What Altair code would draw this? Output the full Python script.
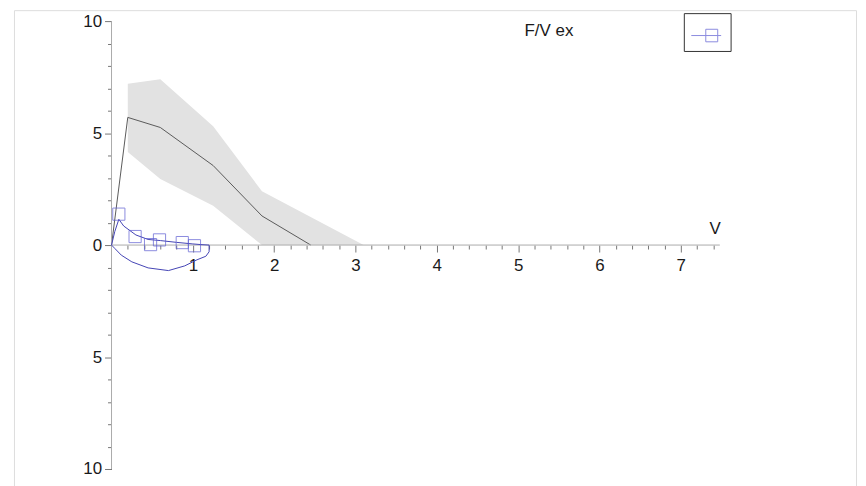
import altair as alt
import pandas as pd

# ---- data ----
mean_x = [0.0, 0.2, 0.6, 1.25, 1.85, 2.45]
mean_y = [0.0, 5.7, 5.25, 3.55, 1.3, 0.0]

band_x = [0.2, 0.6, 1.25, 1.85, 3.1]
band_lo = [4.15, 2.95, 1.75, 0.0, 0.0]
band_hi = [7.2, 7.4, 5.3, 2.4, 0.0]

sq_x = [0.09, 0.29, 0.48, 0.59, 0.87, 1.02]
sq_y = [1.38, 0.38, 0.02, 0.23, 0.11, -0.03]

loop_x = [0.0, 0.04, 0.09, 0.15, 0.3, 0.45, 0.6, 0.8, 1.0, 1.1, 1.2, 1.2, 1.16, 1.05,
          0.9, 0.7, 0.45, 0.25, 0.12, 0.04, 0.0]
loop_y = [0.0, 0.6, 1.15, 0.85, 0.45, 0.25, 0.2, 0.12, 0.05, 0.02, 0.0, -0.3, -0.5, -0.66,
          -0.93, -1.14, -1.02, -0.75, -0.45, -0.15, 0.0]

series_name = ["F/V ex"]
x_tick_values = [round(0.2 * i, 1) for i in range(1, 38)]
y_tick_values = list(range(-10, 11))
x_axis_end = 7.48

FONT = "Liberation Sans"

xscale = alt.Scale(domain=[-1.1995, 9.155], nice=False, zero=False)
yscale = alt.Scale(domain=[-11.511, 10.489], nice=False, zero=False)

is_int_x = "abs(datum.value - round(datum.value)) < 0.01"
xaxis = alt.Axis(
    values=x_tick_values, orient="bottom", offset=-259, domain=False, grid=False,
    tickColor="#777777", tickWidth=1,
    tickSize={"condition": {"test": is_int_x, "value": 7}, "value": 4},
    labelExpr=f"{is_int_x} ? format(round(datum.value), 'd') : ''",
    labelFont=FONT, labelFontSize=17, labelColor="#1a1a1a", labelPadding=6,
    labelOverlap=False, labelFlush=False,
    title="V", titleX=704, titleY=-12, titleAlign="center", titleBaseline="alphabetic",
    titleFont=FONT, titleFontSize=17, titleFontWeight="normal", titleColor="#1a1a1a",
)
yaxis = alt.Axis(
    values=y_tick_values, orient="left", offset=-98, domain=False, grid=False,
    tickColor="#777777", tickWidth=1,
    tickSize={"condition": {"test": "datum.value % 5 === 0", "value": 7}, "value": 4},
    labelExpr="datum.value % 5 === 0 ? format(abs(datum.value), 'd') : ''",
    labelFont=FONT, labelFontSize=17, labelColor="#1a1a1a", labelPadding=3,
    labelOverlap=False, labelFlush=False, title=None,
)


def X(field):
    return alt.X(field, type="quantitative", scale=xscale, axis=xaxis, title="V")


def Y(field):
    return alt.Y(field, type="quantitative", scale=yscale, axis=yaxis, title=None)


band_df = pd.DataFrame({"x": band_x, "lo": band_lo, "hi": band_hi})
mean_df = pd.DataFrame({"x": mean_x, "y": mean_y})
sq_df = pd.DataFrame({"x": sq_x, "y": sq_y, "series": series_name * len(sq_x)})
loop_df = pd.DataFrame({"x": loop_x, "y": loop_y, "i": list(range(len(loop_x)))})
hline_df = pd.DataFrame({"x0": [0.0], "x1": [x_axis_end], "y0": [0.0]})
vline_df = pd.DataFrame({"x0": [0.0], "y0": [-10.0], "y1": [10.0]})

band = alt.Chart(band_df).mark_area(color="#e2e2e2", opacity=1).encode(
    x=X("x"), y=Y("hi"), y2=alt.Y2("lo")
)
mean = alt.Chart(mean_df).mark_line(color="#5a5a5a", strokeWidth=1).encode(
    x=X("x"), y=Y("y")
)
hline = alt.Chart(hline_df).mark_rule(color="#aaaaaa", strokeWidth=1).encode(
    x=X("x0"), x2=alt.X2("x1"), y=Y("y0")
)
vline = alt.Chart(vline_df).mark_rule(color="#aaaaaa", strokeWidth=1).encode(
    x=X("x0"), y=Y("y0"), y2=alt.Y2("y1")
)
loop = alt.Chart(loop_df).mark_line(color="#4444b4", strokeWidth=1).encode(
    x=X("x"), y=Y("y"), order=alt.Order("i:Q")
)
squares = alt.Chart(sq_df).mark_point(shape="square", filled=False, size=150, strokeWidth=1).encode(
    x=X("x"), y=Y("y"),
    color=alt.Color(
        "series:N",
        scale=alt.Scale(range=["#5c5cd2"]),
        legend=alt.Legend(
            orient="none", legendX=673, legendY=3, title=None, padding=7,
            strokeColor="#333333", fillColor="white",
            symbolType="M-1,0L1,0M-0.03,-0.42L0.77,-0.42L0.77,0.42L-0.03,0.42Z",
            symbolSize=900, symbolStrokeWidth=1, symbolFillColor="transparent",
            labelExpr="''", labelOffset=0,
        ),
    ),
)

chart = alt.layer(band, mean, hline, vline, loop, squares).properties(
    width=846, height=495,
    autosize=alt.AutoSizeParams(type="none"),
    padding={"left": 6, "top": 1, "right": 2, "bottom": 0},
    title=alt.TitleParams(
        "F/V ex", anchor="end", frame="group", orient="top", offset=-43, dx=-284,
        font=FONT, fontSize=17, fontWeight="normal", color="#1a1a1a", baseline="alphabetic",
    ),
).configure_view(stroke="#d0d0d0", strokeWidth=2).configure(background="white")

chart.save("out.html", embed_options={"renderer": "svg", "actions": False})
